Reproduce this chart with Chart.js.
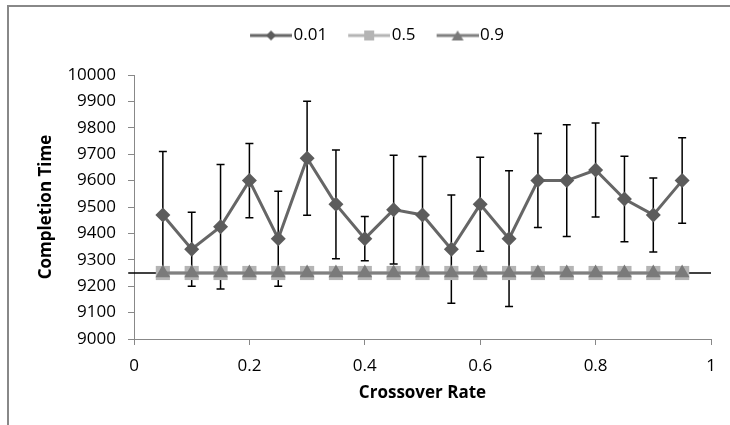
<!DOCTYPE html>
<html>
<head>
<meta charset="utf-8">
<script src="https://cdn.jsdelivr.net/npm/chart.js@4.4.0/dist/chart.umd.min.js"></script>
<style>
  html, body { margin: 0; padding: 0; background: #fff; }
  #wrap { position: relative; width: 730px; height: 425px; overflow: hidden; }
  /* Excel-style chart frame: only top and left edges are visible in the crop */
  #frame { position: absolute; left: 7px; top: 5px; width: 760px; height: 460px;
           border-top: 2px solid #888; border-left: 2px solid #888; }
  canvas { position: absolute; left: 0; top: 0; }
</style>
</head>
<body>
<div id="wrap">
  <div id="frame"></div>
  <canvas id="chart" width="730" height="425"></canvas>
</div>
<script>
// crossover rates on the x axis
const rates = [0.05, 0.1, 0.15, 0.2, 0.25, 0.3, 0.35, 0.4, 0.45, 0.5,
               0.55, 0.6, 0.65, 0.7, 0.75, 0.8, 0.85, 0.9, 0.95];

// mean completion time per mutation rate series
const time001 = [9470, 9340, 9425, 9600, 9380, 9685, 9510, 9380, 9490, 9470,
                 9340, 9510, 9380, 9600, 9600, 9640, 9530, 9470, 9600];
const time05  = [9250, 9250, 9250, 9250, 9250, 9250, 9250, 9250, 9250, 9250,
                 9250, 9250, 9250, 9250, 9250, 9250, 9250, 9250, 9250];
const time09  = [9250, 9250, 9250, 9250, 9250, 9250, 9250, 9250, 9250, 9250,
                 9250, 9250, 9250, 9250, 9250, 9250, 9250, 9250, 9250];

// +/- error for the 0.01 series
const err001 = [240, 140, 236, 141, 180, 216, 206, 84, 206, 221,
                205, 178, 257, 178, 212, 178, 162, 140, 162];

// horizontal reference line
const refX = [-0.01, 1.0];
const refY = [9250, 9250];

const seriesNames = ["0.01", "0.5", "0.9"];
const yTicks = { min: 9000, max: 10000, step: 100 };
const xTicks = { min: 0, max: 1, step: 0.2 };

const FONT = "'Open Sans', 'DejaVu Sans', sans-serif";

function toPoints(xs, ys) {
  return xs.map((x, i) => ({ x: x, y: ys[i] }));
}

// small canvas used as legend swatch: line with a marker in the middle
function legendSwatch(color, markerColor, shape) {
  const c = document.createElement("canvas");
  c.width = 56;
  c.height = 16;
  const ctx = c.getContext("2d");
  const x0 = 14, x1 = 56, cy = 8, cx = 35;
  ctx.strokeStyle = color;
  ctx.lineWidth = 3;
  ctx.beginPath();
  ctx.moveTo(x0, cy);
  ctx.lineTo(x1, cy);
  ctx.stroke();
  ctx.fillStyle = markerColor;
  ctx.beginPath();
  if (shape === "diamond") {
    ctx.moveTo(cx, cy - 5); ctx.lineTo(cx + 5, cy); ctx.lineTo(cx, cy + 5); ctx.lineTo(cx - 5, cy);
  } else if (shape === "square") {
    ctx.rect(cx - 5, cy - 5, 10, 10);
  } else {
    ctx.moveTo(cx, cy - 5); ctx.lineTo(cx + 6, cy + 5); ctx.lineTo(cx - 6, cy + 5);
  }
  ctx.closePath();
  ctx.fill();
  return c;
}

const swatches = [
  legendSwatch("#666666", "#5c5c5c", "diamond"),
  legendSwatch("#b4b4b4", "#b4b4b4", "square"),
  legendSwatch("#808080", "#7a7a7a", "triangle"),
];

// leave a gap between the legend and the plot, like the Excel original
const legendGap = {
  id: "legendGap",
  beforeLayout(chart) {
    const lg = chart.legend;
    if (!lg || lg._gapWrapped) return;
    const fit = lg.fit;
    lg.fit = function () {
      fit.call(this);
      this.height += 21;
    };
    lg._gapWrapped = true;
  },
};

const errorBars = {
  id: "errorBars",
  beforeDatasetDraw(chart, args) {
    if (chart.data.datasets[args.index].label !== seriesNames[0]) return;
    const xs = chart.scales.x, ys = chart.scales.y;
    const ctx = chart.ctx;
    ctx.save();
    ctx.strokeStyle = "#000";
    ctx.lineWidth = 1.5;
    rates.forEach((r, i) => {
      const px = xs.getPixelForValue(r);
      const top = ys.getPixelForValue(time001[i] + err001[i]);
      const bot = ys.getPixelForValue(time001[i] - err001[i]);
      ctx.beginPath();
      ctx.moveTo(px, top); ctx.lineTo(px, bot);
      ctx.moveTo(px - 4, top); ctx.lineTo(px + 4, top);
      ctx.moveTo(px - 4, bot); ctx.lineTo(px + 4, bot);
      ctx.stroke();
    });
    ctx.restore();
  },
};

new Chart(document.getElementById("chart"), {
  type: "line",
  data: {
    datasets: [
      {
        label: seriesNames[0],
        data: toPoints(rates, time001),
        borderColor: "#666666",
        backgroundColor: "#5c5c5c",
        borderWidth: 3,
        pointStyle: "rectRot",
        pointRadius: 7.5,
        pointBorderWidth: 0,
        order: 3,
      },
      {
        label: seriesNames[1],
        data: toPoints(rates, time05),
        borderColor: "#b4b4b4",
        backgroundColor: "#b4b4b4",
        borderWidth: 3,
        pointStyle: "rect",
        pointRadius: 10,
        pointBorderWidth: 0,
        order: 2,
      },
      {
        label: seriesNames[2],
        data: toPoints(rates, time09),
        borderColor: "#808080",
        backgroundColor: "#7a7a7a",
        borderWidth: 3,
        pointStyle: "triangle",
        pointRadius: 8.5,
        pointBorderWidth: 0,
        order: 1,
      },
      {
        label: "ref",
        data: toPoints(refX, refY),
        borderColor: "#000",
        borderWidth: 1.5,
        pointRadius: 0,
        clip: false,
        order: 4,
      },
    ],
  },
  options: {
    responsive: false,
    animation: false,
    events: [],
    layout: { padding: { left: 36, right: 19, top: 13, bottom: 22 } },
    plugins: {
      tooltip: { enabled: false },
      legend: {
        position: "top",
        labels: {
          color: "#000",
          font: { family: FONT, size: 17 },
          usePointStyle: true,
          pointStyleWidth: 42,
          boxHeight: 15,
          padding: 14,
          filter: (item) => item.text !== "ref",
          sort: (a, b) => a.datasetIndex - b.datasetIndex,
          generateLabels: (chart) =>
            chart.data.datasets.map((ds, i) => ({
              text: ds.label,
              datasetIndex: i,
              pointStyle: swatches[i] || "line",
              fontColor: "#000",
              lineWidth: 0,
              strokeStyle: "transparent",
              fillStyle: "transparent",
            })),
        },
      },
    },
    scales: {
      x: {
        type: "linear",
        min: xTicks.min,
        max: xTicks.max,
        border: { color: "#888", width: 1 },
        grid: { drawOnChartArea: false, color: "#888", tickLength: 6 },
        ticks: { stepSize: xTicks.step, color: "#000", padding: 11,
                 font: { family: FONT, size: 17 }, callback: (v) => String(+v.toFixed(1)) },
        title: { display: true, text: "Crossover Rate", color: "#000", padding: 0,
                 font: { family: FONT, size: 17, weight: "bold" } },
        afterFit: (s) => { s.height = 425 - 339 - 22; },
      },
      y: {
        min: yTicks.min,
        max: yTicks.max,
        border: { color: "#888", width: 1 },
        grid: { drawOnChartArea: false, color: "#888", tickLength: 6 },
        ticks: { stepSize: yTicks.step, color: "#000", padding: 12,
                 font: { family: FONT, size: 17 }, callback: (v) => String(v) },
        title: { display: true, text: "Completion Time", color: "#000", padding: 0,
                 font: { family: FONT, size: 17, weight: "bold" } },
        afterFit: (s) => { s.width = 134 - 36; },
      },
    },
  },
  plugins: [legendGap, errorBars],
});
</script>
</body>
</html>
